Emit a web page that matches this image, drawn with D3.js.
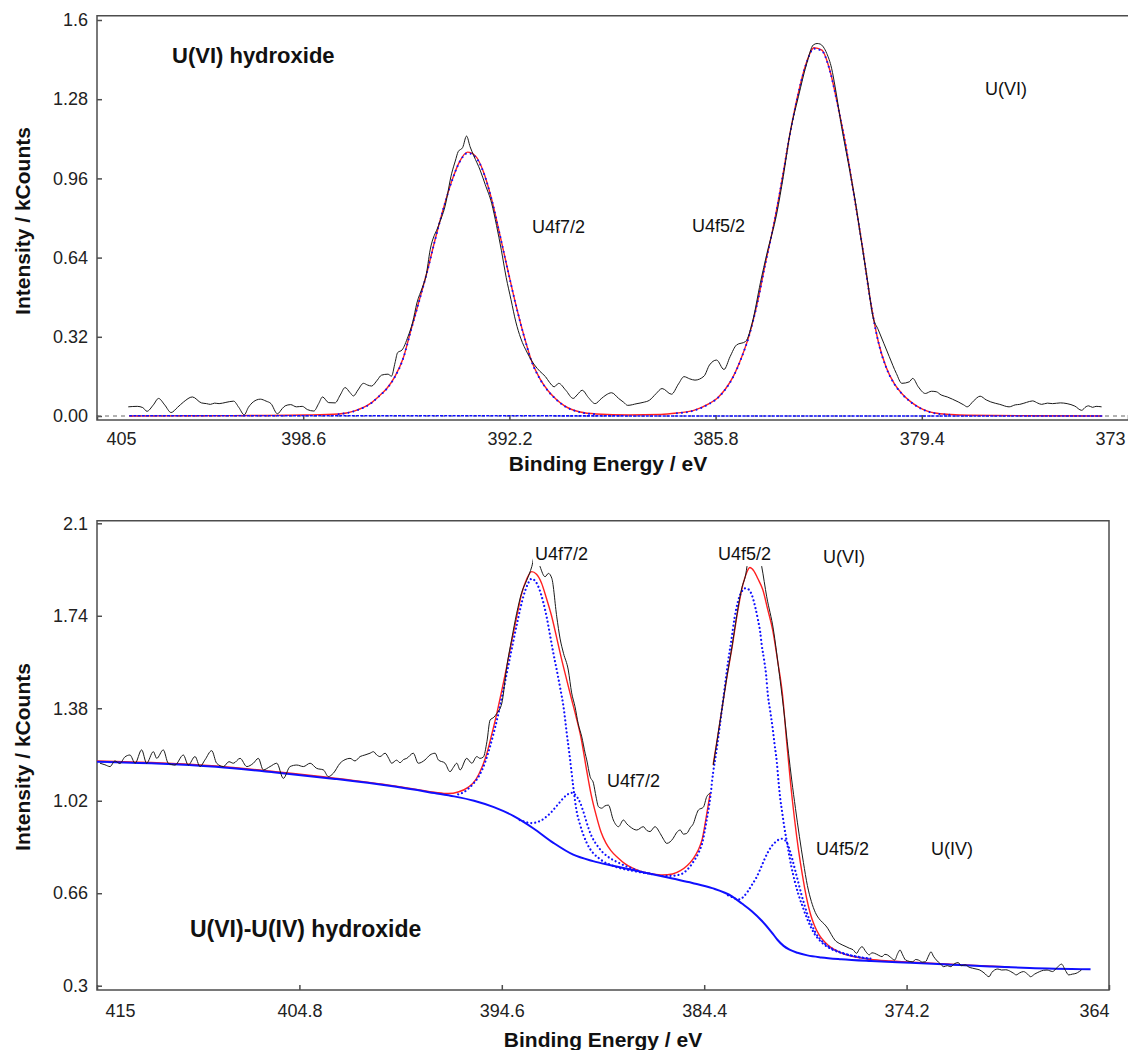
<!DOCTYPE html>
<html>
<head>
<meta charset="utf-8">
<script src="https://cdn.jsdelivr.net/npm/d3@7"></script>
<style>
  body { margin: 0; background: #fff; }
  svg { display: block; font-family: "Liberation Sans", Arial, sans-serif; }
</style>
</head>
<body>
<svg id="chart" width="1128" height="1050"></svg>
<script>
// ---- tick values / labels ----
const topTicksX = [405, 398.6, 392.2, 385.8, 379.4, 373];
const topTicksY = [0, 0.32, 0.64, 0.96, 1.28, 1.6];
const topLabelsY = ['0.00', '0.32', '0.64', '0.96', '1.28', '1.6'];
const botTicksX = [415, 404.8, 394.6, 384.4, 374.2, 364];
const botTicksY = [0.3, 0.66, 1.02, 1.38, 1.74, 2.1];
const botLabelsY = ['0.3', '0.66', '1.02', '1.38', '1.74', '2.1'];

// ---- top panel: U(VI) hydroxide, [binding energy eV, kCounts] ----
const topRaw = [[404.03,0.037],[403.75,0.039],[403.58,0.034],[403.45,0.019],[403.25,0.045],[403.09,0.071],[402.9,0.045],[402.7,0.014],[402.5,0.035],[402.31,0.057],[402.04,0.077],[401.76,0.053],[401.6,0.050],[401.48,0.047],[401.35,0.052],[401.21,0.050],[401.0,0.055],[400.76,0.060],[400.6,0.035],[400.43,0.005],[400.3,0.035],[400.15,0.057],[399.93,0.068],[399.75,0.060],[399.6,0.050],[399.4,0.009],[399.25,0.030],[399.16,0.041],[398.99,0.046],[398.81,0.037],[398.63,0.039],[398.47,0.026],[398.27,0.020],[398.12,0.050],[398.0,0.077],[397.81,0.054],[397.61,0.053],[397.45,0.085],[397.3,0.115],[397.15,0.095],[397.04,0.081],[396.9,0.105],[396.73,0.132],[396.6,0.125],[396.48,0.121],[396.3,0.145],[396.17,0.165],[395.97,0.169],[395.86,0.161],[395.75,0.215],[395.67,0.256],[395.53,0.267],[395.35,0.320],[395.2,0.380],[395.07,0.457],[394.9,0.520],[394.79,0.565],[394.66,0.671],[394.4,0.770],[394.2,0.846],[393.99,0.981],[393.88,1.030],[393.79,1.068],[393.65,1.085],[393.53,1.131],[393.42,1.088],[393.3,1.050],[393.11,0.994],[392.95,0.935],[392.75,0.859],[392.6,0.770],[392.45,0.670],[392.3,0.560],[392.15,0.470],[392.0,0.380],[391.85,0.315],[391.64,0.254],[391.42,0.206],[391.25,0.180],[391.08,0.159],[390.95,0.135],[390.81,0.118],[390.67,0.132],[390.45,0.104],[390.22,0.071],[390.1,0.085],[389.94,0.104],[389.75,0.075],[389.54,0.050],[389.35,0.070],[389.2,0.085],[389.03,0.094],[388.81,0.071],[388.65,0.055],[388.53,0.043],[388.24,0.050],[388.05,0.055],[387.85,0.064],[387.65,0.090],[387.46,0.111],[387.17,0.088],[386.95,0.130],[386.78,0.159],[386.6,0.150],[386.44,0.145],[386.16,0.161],[385.99,0.206],[385.77,0.226],[385.54,0.188],[385.35,0.240],[385.15,0.287],[384.87,0.301],[384.64,0.389],[384.41,0.538],[384.2,0.660],[383.9,0.819],[383.7,0.967],[383.49,1.142],[383.23,1.290],[382.97,1.425],[382.77,1.499],[382.65,1.505],[382.56,1.503],[382.35,1.465],[382.2,1.405],[382.09,1.330],[381.89,1.169],[381.68,1.021],[381.47,0.873],[381.27,0.700],[381.09,0.552],[380.92,0.403],[380.75,0.348],[380.58,0.294],[380.41,0.240],[380.19,0.172],[380.02,0.132],[379.79,0.138],[379.68,0.152],[379.51,0.118],[379.29,0.091],[379.1,0.100],[378.95,0.098],[378.8,0.085],[378.61,0.077],[378.45,0.068],[378.27,0.057],[378.1,0.045],[377.99,0.037],[377.8,0.060],[377.59,0.080],[377.4,0.065],[377.26,0.057],[376.98,0.047],[376.69,0.037],[376.5,0.045],[376.36,0.047],[376.15,0.055],[375.96,0.061],[375.8,0.052],[375.68,0.047],[375.5,0.052],[375.34,0.050],[375.1,0.053],[374.89,0.050],[374.65,0.040],[374.44,0.023],[374.3,0.038],[374.22,0.041],[374.1,0.035],[373.99,0.039],[373.82,0.037]];

const topFit = [[404.0,0.000],[402.0,0.001],[400.0,0.002],[398.5,0.004],[397.5,0.008],[397.0,0.021],[396.5,0.052],[396.25,0.080],[396.0,0.112],[395.75,0.160],[395.5,0.232],[395.25,0.350],[395.0,0.466],[394.75,0.585],[394.5,0.716],[394.25,0.838],[394.0,0.945],[393.75,1.027],[393.5,1.066],[393.25,1.050],[393.0,0.985],[392.75,0.875],[392.5,0.735],[392.25,0.590],[392.0,0.450],[391.75,0.325],[391.5,0.218],[391.25,0.150],[391.0,0.102],[390.75,0.068],[390.5,0.042],[390.0,0.016],[389.5,0.008],[388.5,0.004],[387.5,0.006],[387.0,0.012],[386.5,0.022],[386.0,0.050],[385.75,0.072],[385.5,0.108],[385.25,0.160],[385.0,0.235],[384.75,0.330],[384.5,0.460],[384.25,0.620],[384.0,0.770],[383.75,0.945],[383.5,1.135],[383.25,1.295],[383.0,1.420],[382.75,1.488],[382.5,1.478],[382.25,1.395],[382.0,1.250],[381.75,1.085],[381.5,0.890],[381.25,0.690],[381.0,0.470],[380.75,0.300],[380.5,0.195],[380.25,0.130],[380.0,0.088],[379.75,0.058],[379.5,0.036],[379.25,0.021],[379.0,0.012],[378.5,0.006],[378.0,0.003],[376.0,0.001],[373.8,0.000]];

const topPeak1 = [[397.5,0.007],[397.0,0.020],[396.5,0.051],[396.25,0.079],[396.0,0.111],[395.75,0.159],[395.5,0.231],[395.25,0.349],[395.0,0.465],[394.75,0.584],[394.5,0.715],[394.25,0.837],[394.0,0.944],[393.75,1.025],[393.5,1.062],[393.25,1.046],[393.0,0.983],[392.75,0.874],[392.5,0.734],[392.25,0.589],[392.0,0.449],[391.75,0.324],[391.5,0.217],[391.25,0.149],[391.0,0.101],[390.75,0.067],[390.5,0.041],[390.0,0.015],[389.5,0.007]];
const topPeak2 = [[387.0,0.011],[386.5,0.021],[386.0,0.049],[385.75,0.071],[385.5,0.107],[385.25,0.159],[385.0,0.234],[384.75,0.329],[384.5,0.459],[384.25,0.619],[384.0,0.769],[383.75,0.944],[383.5,1.133],[383.25,1.293],[383.0,1.418],[382.75,1.484],[382.5,1.475],[382.25,1.393],[382.0,1.249],[381.75,1.084],[381.5,0.889],[381.25,0.689],[381.0,0.469],[380.75,0.299],[380.5,0.194],[380.25,0.129],[380.0,0.087],[379.75,0.057],[379.5,0.035],[379.0,0.011],[378.5,0.005]];
const topBg = [[404.0,0.001],[395.5,0.001],[393.5,0.001],[385.8,0.000],[380.5,0.000],[373.8,0.000]];

// ---- bottom panel: U(VI)-U(IV) hydroxide ----
const botRaw = [[414.85,1.166],[414.6,1.160],[414.34,1.153],[414.1,1.175],[413.85,1.165],[413.6,1.190],[413.34,1.198],[413.08,1.166],[412.75,1.218],[412.5,1.166],[412.16,1.211],[411.99,1.185],[411.66,1.218],[411.41,1.166],[411.07,1.159],[410.65,1.198],[410.4,1.159],[410.06,1.192],[409.81,1.153],[409.56,1.179],[409.22,1.215],[408.97,1.166],[408.63,1.153],[408.35,1.172],[408.13,1.166],[407.79,1.185],[407.45,1.153],[407.12,1.166],[406.87,1.185],[406.62,1.140],[406.28,1.153],[405.94,1.166],[405.61,1.107],[405.27,1.153],[404.93,1.159],[404.6,1.153],[404.26,1.166],[403.93,1.146],[403.59,1.140],[403.34,1.114],[403.09,1.127],[402.75,1.166],[402.5,1.180],[402.25,1.185],[402.0,1.175],[401.74,1.192],[401.5,1.198],[401.24,1.205],[401.07,1.211],[400.9,1.198],[400.74,1.192],[400.48,1.205],[400.3,1.185],[400.15,1.166],[399.9,1.178],[399.73,1.168],[399.56,1.180],[399.39,1.185],[399.06,1.205],[398.81,1.166],[398.47,1.179],[398.22,1.198],[397.96,1.205],[397.8,1.179],[397.46,1.166],[397.21,1.133],[397.04,1.150],[396.87,1.166],[396.7,1.140],[396.37,1.185],[396.11,1.166],[395.86,1.192],[395.7,1.185],[395.53,1.190],[395.35,1.250],[395.19,1.334],[395.0,1.345],[394.85,1.360],[394.6,1.399],[394.35,1.542],[394.1,1.650],[393.85,1.750],[393.6,1.830],[393.34,1.879],[393.09,1.931],[392.9,1.990],[392.67,1.931],[392.42,1.892],[392.25,1.905],[392.08,1.886],[391.83,1.736],[391.66,1.650],[391.49,1.594],[391.25,1.529],[391.08,1.440],[390.91,1.386],[390.75,1.320],[390.57,1.269],[390.4,1.205],[390.32,1.179],[390.15,1.114],[389.98,1.088],[389.85,1.035],[389.73,0.997],[389.57,0.991],[389.4,1.000],[389.23,1.003],[388.98,0.945],[388.72,0.919],[388.47,0.945],[388.3,0.930],[388.14,0.919],[387.8,0.906],[387.47,0.919],[387.3,0.905],[387.13,0.900],[386.88,0.919],[386.62,0.893],[386.45,0.870],[386.29,0.854],[385.96,0.874],[385.8,0.895],[385.61,0.906],[385.45,0.890],[385.28,0.893],[385.1,0.915],[384.94,0.932],[384.8,0.965],[384.69,0.984],[384.44,0.995],[384.27,1.036],[384.1,1.049],[384.02,null],[383.94,1.159],[383.75,1.255],[383.5,1.380],[383.25,1.505],[383.0,1.620],[382.75,1.745],[382.5,1.850],[382.33,1.892],[382.1,1.990],[381.8,2.000],[381.6,1.970],[381.5,1.931],[381.25,1.814],[380.91,1.685],[380.66,1.542],[380.41,1.386],[380.15,1.205],[379.99,1.101],[379.8,0.990],[379.6,0.880],[379.4,0.780],[379.2,0.690],[379.0,0.628],[378.8,0.585],[378.55,0.555],[378.35,0.540],[378.18,0.524],[378.0,0.500],[377.82,0.478],[377.6,0.465],[377.45,0.459],[377.25,0.452],[377.09,0.446],[376.9,0.440],[376.72,0.426],[376.6,0.440],[376.45,0.452],[376.25,0.432],[376.08,0.420],[375.95,0.428],[375.81,0.426],[375.6,0.418],[375.44,0.413],[375.3,0.422],[375.17,0.420],[375.0,0.410],[374.8,0.400],[374.65,0.425],[374.53,0.439],[374.4,0.420],[374.25,0.400],[373.89,0.393],[373.75,0.402],[373.61,0.400],[373.4,0.392],[373.25,0.393],[373.1,0.415],[372.97,0.432],[372.85,0.415],[372.7,0.400],[372.5,0.385],[372.33,0.374],[372.15,0.378],[371.97,0.374],[371.8,0.385],[371.6,0.390],[371.45,0.378],[371.24,0.381],[371.05,0.372],[370.87,0.368],[370.7,0.365],[370.51,0.361],[370.3,0.350],[370.05,0.335],[369.9,0.352],[369.77,0.361],[369.6,0.365],[369.41,0.361],[369.2,0.362],[368.95,0.355],[368.8,0.348],[368.68,0.342],[368.5,0.350],[368.31,0.355],[368.1,0.345],[367.95,0.335],[367.75,0.345],[367.49,0.355],[367.3,0.360],[367.12,0.361],[366.98,0.358],[366.85,0.355],[366.6,0.372],[366.39,0.384],[366.2,0.360],[366.03,0.342],[365.85,0.345],[365.66,0.348],[365.5,0.355],[365.39,0.361]];

const botFit = [[415,1.175],[412,1.168],[409,1.155],[406,1.133],[403,1.108],[400,1.078],[398,1.053],[397.3,1.048],[396.8,1.054],[396.3,1.072],[395.9,1.103],[395.6,1.150],[395.35,1.205],[395.1,1.280],[394.85,1.360],[394.6,1.450],[394.35,1.542],[394.1,1.640],[393.85,1.736],[393.6,1.825],[393.35,1.882],[393.1,1.912],[392.85,1.902],[392.6,1.868],[392.35,1.808],[392.1,1.742],[391.85,1.660],[391.6,1.575],[391.35,1.497],[391.1,1.420],[390.85,1.345],[390.6,1.262],[390.35,1.150],[390.1,1.045],[389.85,0.965],[389.6,0.898],[389.35,0.855],[389.1,0.826],[388.75,0.798],[388.4,0.775],[388.0,0.758],[387.5,0.743],[387.0,0.735],[386.5,0.731],[386.0,0.735],[385.6,0.748],[385.25,0.768],[384.95,0.795],[384.7,0.828],[384.5,0.870],[384.3,0.955],[384.1,1.049],[384.02,null],[383.95,1.160],[383.75,1.255],[383.5,1.380],[383.25,1.505],[383.0,1.615],[382.75,1.740],[382.5,1.845],[382.3,1.900],[382.1,1.928],[381.9,1.915],[381.7,1.885],[381.45,1.842],[381.2,1.765],[380.95,1.685],[380.7,1.565],[380.45,1.430],[380.25,1.255],[380.05,1.090],[379.85,0.950],[379.65,0.830],[379.45,0.730],[379.25,0.645],[379.05,0.580],[378.85,0.535],[378.6,0.497],[378.3,0.468],[378.0,0.448],[377.5,0.428],[377.0,0.415],[376.0,0.402],[375.0,0.396],[373.0,0.388],[371.0,0.380],[369.0,0.373]];

const botBg = [[415,1.172],[412,1.165],[409,1.152],[406,1.130],[403,1.105],[401,1.086],[400,1.075],[398,1.050],[397,1.037],[396,1.020],[395,0.995],[394,0.960],[393,0.912],[392,0.856],[391,0.810],[390,0.785],[389,0.767],[388,0.750],[387,0.734],[386,0.717],[385,0.700],[384,0.680],[383,0.648],[382.5,0.620],[382,0.590],[381.5,0.553],[381,0.508],[380.7,0.478],[380.4,0.455],[380.1,0.440],[379.7,0.428],[379.2,0.418],[378.5,0.410],[377.5,0.403],[376,0.396],[374,0.389],[372,0.382],[370,0.375],[368,0.369],[364.93,0.364]];

const botVI7 = [[396.8,1.045],[396.55,1.052],[396.3,1.066],[396.05,1.085],[395.8,1.110],[395.55,1.148],[395.3,1.203],[395.05,1.272],[394.8,1.350],[394.55,1.440],[394.3,1.535],[394.05,1.630],[393.8,1.722],[393.55,1.805],[393.3,1.862],[393.1,1.884],[392.9,1.874],[392.7,1.842],[392.5,1.790],[392.34,1.736],[392.17,1.665],[392.0,1.594],[391.83,1.529],[391.66,1.460],[391.49,1.386],[391.33,1.285],[391.16,1.182],[391.0,1.075],[390.83,0.980],[390.66,0.928],[390.5,0.890],[390.32,0.856],[390.15,0.832],[389.98,0.815],[389.7,0.796],[389.45,0.782],[389.1,0.770],[388.8,0.761],[388.4,0.753],[388.0,0.747],[387.5,0.740],[387.0,0.734]];
const botIV7 = [[393.7,0.945],[393.4,0.937],[393.1,0.933],[392.85,0.936],[392.6,0.944],[392.35,0.958],[392.1,0.976],[391.9,0.994],[391.7,1.012],[391.5,1.030],[391.3,1.044],[391.1,1.051],[390.95,1.047],[390.8,1.034],[390.65,1.012],[390.5,0.980],[390.35,0.942],[390.2,0.906],[390.05,0.878],[389.9,0.858],[389.7,0.836],[389.5,0.818],[389.25,0.802],[389.0,0.790],[388.7,0.778],[388.4,0.767],[388.0,0.755],[387.5,0.742],[387.0,0.735]];
const botVI5 = [[386.5,0.727],[386.0,0.728],[385.6,0.733],[385.25,0.752],[384.95,0.782],[384.7,0.815],[384.5,0.855],[384.3,0.935],[384.1,1.030],[383.95,1.130],[383.8,1.205],[383.6,1.320],[383.4,1.440],[383.2,1.560],[383.03,1.646],[382.86,1.736],[382.68,1.801],[382.51,1.834],[382.34,1.847],[382.17,1.843],[382.0,1.821],[381.83,1.775],[381.7,1.728],[381.58,1.678],[381.5,1.626],[381.38,1.568],[381.28,1.510],[381.2,1.438],[381.08,1.373],[380.96,1.308],[380.86,1.244],[380.74,1.170],[380.66,1.100],[380.57,1.030],[380.47,0.975],[380.38,0.926],[380.19,0.841],[380.01,0.765],[379.83,0.705],[379.65,0.655],[379.45,0.610],[379.25,0.568],[379.05,0.532],[378.85,0.503],[378.6,0.478],[378.3,0.457],[378.0,0.443],[377.6,0.430],[377.0,0.417],[376.0,0.404]];
const botIV5 = [[383.2,0.652],[383.0,0.645],[382.8,0.638],[382.6,0.636],[382.4,0.648],[382.21,0.666],[382.0,0.692],[381.75,0.724],[381.55,0.758],[381.38,0.789],[381.2,0.818],[381.02,0.841],[380.85,0.856],[380.7,0.866],[380.5,0.872],[380.35,0.868],[380.2,0.852],[380.08,0.825],[379.95,0.790],[379.8,0.745],[379.65,0.700],[379.5,0.655],[379.35,0.615],[379.2,0.578],[379.0,0.540],[378.8,0.508],[378.6,0.485],[378.3,0.462],[378.0,0.446],[377.6,0.432],[377.0,0.418],[376.0,0.405]];

// ---- drawing ----
const svg = d3.select('#chart');
const AXIS = '#4d4d4d', BLACK = '#1a1a1a', RED = '#ff2020', BLUE = '#1010ff';

function drawPanel(p) {
  const g = svg.append('g');
  const x = d3.scaleLinear().domain(p.xDomain).range([p.l, p.r]);
  const y = d3.scaleLinear().domain(p.yDomain).range(p.yRange);

  g.append('clipPath').attr('id', p.id + '-clip')
    .append('rect').attr('x', p.l).attr('y', p.t).attr('width', p.r - p.l).attr('height', p.b - p.t);

  // frame
  const frame = p.openRight
    ? `M${p.r},${p.t}H${p.l}V${p.b}H${p.r}`
    : `M${p.l},${p.t}H${p.r}V${p.b}H${p.l}Z`;
  g.append('path').attr('d', frame).attr('fill', 'none').attr('stroke', AXIS).attr('stroke-width', 1.5);

  // axes
  const xa = g.append('g').attr('transform', `translate(0,${p.b})`)
    .call(d3.axisBottom(x).tickValues(p.ticksX).tickSizeInner(-5).tickSizeOuter(0)
      .tickPadding(p.xPad).tickFormat(d => String(d)));
  const ya = g.append('g').attr('transform', `translate(${p.l},0)`)
    .call(d3.axisLeft(y).tickValues(p.ticksY).tickSizeInner(-5).tickSizeOuter(0)
      .tickPadding(9).tickFormat((d, i) => p.labelsY[i]));
  [xa, ya].forEach(a => {
    a.select('.domain').remove();
    a.attr('font-family', null).attr('font-size', null);
    a.selectAll('line').attr('stroke', AXIS).attr('stroke-width', 1.5);
    a.selectAll('text').attr('fill', '#222').style('font-size', '18px');
  });
  const xt = xa.selectAll('.tick text');
  xt.filter((d, i) => i === 0).attr('text-anchor', 'start').attr('x', p.firstDx);
  xt.filter((d, i, n) => i === n.length - 1).attr('text-anchor', 'end').attr('x', p.lastDx);

  // axis titles
  g.append('text').attr('x', p.xTitleX).attr('y', p.xTitleY).attr('text-anchor', 'middle')
    .style('font-size', '21px').style('font-weight', 'bold').attr('fill', '#111').text('Binding Energy / eV');
  g.append('text').attr('transform', `translate(30,${p.yTitleY}) rotate(-90)`).attr('text-anchor', 'middle')
    .style('font-size', '21px').style('font-weight', 'bold').attr('fill', '#111').text('Intensity / kCounts');

  const plot = g.append('g').attr('clip-path', `url(#${p.id}-clip)`);
  return { g, plot, x, y };
}

function lineOf(x, y) {
  return d3.line().defined(d => d[1] != null).x(d => x(d[0])).y(d => y(d[1])).curve(d3.curveMonotoneX);
}

function label(g, txt, x, y, opts = {}) {
  const t = g.append('text').attr('x', x).attr('y', y).attr('fill', '#111')
    .style('font-size', (opts.size || 18) + 'px').style('font-weight', opts.bold ? 'bold' : 'normal').text(txt);
  if (opts.box) {
    const bb = t.node().getBBox();
    g.insert('rect', () => t.node()).attr('x', bb.x - 2).attr('y', bb.y - 1)
      .attr('width', bb.width + 4).attr('height', bb.height + 3).attr('fill', '#fff');
  }
}

// top panel
const topP = drawPanel({
  id: 'top', l: 97, r: 1128, t: 15.7, b: 420, openRight: true,
  xDomain: [405, 373], yDomain: [0, 1.6], yRange: [416, 20],
  ticksX: topTicksX, ticksY: topTicksY, labelsY: topLabelsY,
  xPad: 12, firstDx: 9, lastDx: -3, xTitleX: 608, xTitleY: 471, yTitleY: 221
});
topP.plot.append('line').attr('x1', topP.x(405)).attr('x2', topP.x(373)).attr('y1', topP.y(0)).attr('y2', topP.y(0))
  .attr('stroke', '#666').attr('stroke-width', 1).attr('stroke-dasharray', '4 4');
topP.plot.append('path').datum(topFit).attr('d', lineOf(topP.x, topP.y))
  .attr('fill', 'none').attr('stroke', RED).attr('stroke-width', 1.4);
[topPeak1, topPeak2].forEach(c => topP.plot.append('path').datum(c).attr('d', lineOf(topP.x, topP.y))
  .attr('fill', 'none').attr('stroke', BLUE).attr('stroke-width', 2).attr('stroke-linecap', 'round')
  .attr('stroke-dasharray', '0.01 5'));
topP.plot.append('path').datum(topBg).attr('d', lineOf(topP.x, topP.y))
  .attr('fill', 'none').attr('stroke', BLUE).attr('stroke-width', 1.6).attr('stroke-dasharray', '3 1.2');
topP.plot.append('path').datum(topRaw).attr('d', lineOf(topP.x, topP.y))
  .attr('fill', 'none').attr('stroke', BLACK).attr('stroke-width', 1);

label(topP.g, 'U(VI) hydroxide', 172, 63, { bold: true, size: 22 });
label(topP.g, 'U4f7/2', 532, 233, { box: true });
label(topP.g, 'U4f5/2', 692, 232, { box: true });
label(topP.g, 'U(VI)', 985, 95, { box: true });

// bottom panel
const botP = drawPanel({
  id: 'bot', l: 97, r: 1109, t: 520.7, b: 990, openRight: false,
  xDomain: [415, 364], yDomain: [0.3, 2.1], yRange: [985.7, 523.3],
  ticksX: botTicksX, ticksY: botTicksY, labelsY: botLabelsY,
  xPad: 14, firstDx: 8, lastDx: 0, xTitleX: 603, xTitleY: 1047, yTitleY: 757
});
botP.plot.append('path').datum(botFit).attr('d', lineOf(botP.x, botP.y))
  .attr('fill', 'none').attr('stroke', RED).attr('stroke-width', 1.4);
[botVI7, botIV7, botVI5, botIV5].forEach(c => botP.plot.append('path').datum(c).attr('d', lineOf(botP.x, botP.y))
  .attr('fill', 'none').attr('stroke', BLUE).attr('stroke-width', 2.2).attr('stroke-linecap', 'round')
  .attr('stroke-dasharray', '0.01 4'));
botP.plot.append('path').datum(botBg).attr('d', lineOf(botP.x, botP.y))
  .attr('fill', 'none').attr('stroke', BLUE).attr('stroke-width', 2);
botP.plot.append('path').datum(botRaw).attr('d', lineOf(botP.x, botP.y))
  .attr('fill', 'none').attr('stroke', BLACK).attr('stroke-width', 1);

label(botP.g, 'U4f7/2', 535, 560, { box: true });
label(botP.g, 'U4f5/2', 718, 560, { box: true });
label(botP.g, 'U(VI)', 823, 563, { box: true });
label(botP.g, 'U4f7/2', 607, 787, { box: true });
label(botP.g, 'U4f5/2', 816, 855, { box: true });
label(botP.g, 'U(IV)', 931, 855, { box: true });
label(botP.g, 'U(VI)-U(IV) hydroxide', 190, 937, { bold: true, size: 23 });
</script>
</body>
</html>
